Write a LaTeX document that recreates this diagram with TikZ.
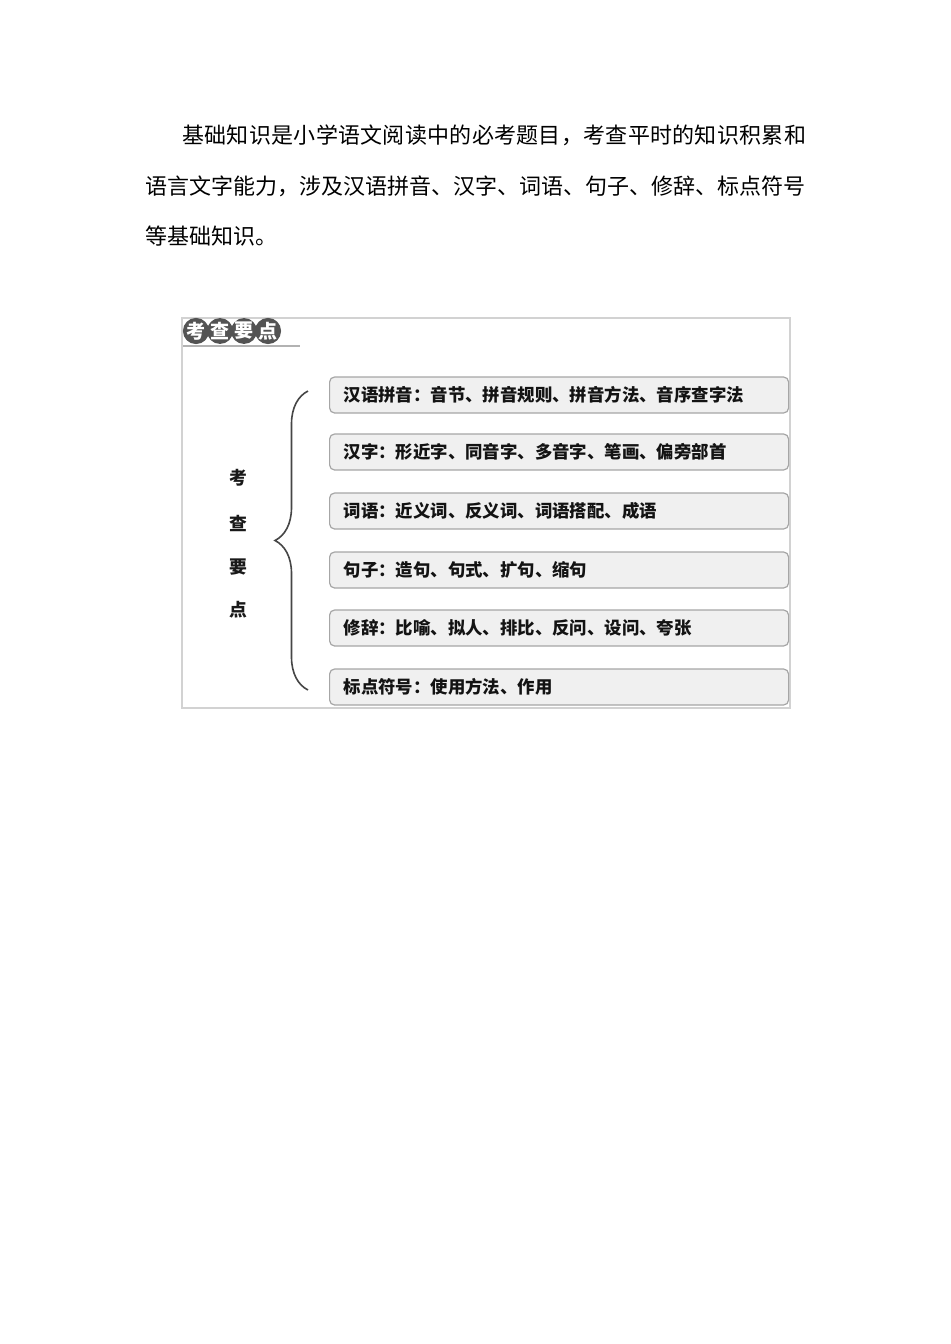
\documentclass[tikz,border=0pt]{standalone}
\usepackage{fontspec}
\usepackage{tikz}
\usetikzlibrary{decorations.pathreplacing}
\newfontfamily\cjk{Noto Sans CJK SC}
\newfontfamily\cjkwide[LetterSpace=1.3]{Noto Sans CJK SC}

\begin{document}
\begin{tikzpicture}[x=0.5pt,y=-0.5pt]
\tikzstyle{every node}=[inner sep=0pt,font=\cjk];
\tikzstyle{textline}=[anchor=west,font=\cjk\fontsize{11pt}{13pt}\selectfont];
\tikzstyle{badge}=[circle,fill=gray!65!black,text=white,minimum size=12.5pt,font=\cjk\bfseries\fontsize{9.5pt}{10pt}\selectfont];
\tikzstyle{side}=[font=\cjk\bfseries\fontsize{8.9pt}{10pt}\selectfont,text=gray!20!black];
\tikzstyle{item}=[draw=gray!70,fill=gray!12,rounded corners=2.5pt,line width=0.6pt,anchor=west,
  text width=215.5pt,inner xsep=7pt,minimum height=18pt,align=left,
  font=\cjk\bfseries\fontsize{8.7pt}{10pt}\selectfont,text=gray!15!black];
\fill[white] (0,0) rectangle (950,1344);
\useasboundingbox (0,0) rectangle (950,1344);
% paragraph
    \node[textline,font=\cjkwide\fontsize{11pt}{13pt}\selectfont] (p1) at (182,135) {基础知识是小学语文阅读中的必考题目，考查平时的知识积累和};
    \node[textline] (p2) at (145,186) {语言文字能力，涉及汉语拼音、汉字、词语、句子、修辞、标点符号};
    \node[textline] (p3) at (145,236) {等基础知识。};
% scanned figure
%   frame and header
    \draw[gray!35,line width=0.6pt] (182,318) rectangle (790,708);
    \draw[gray!60,line width=0.8pt] (183,346) -- (300,346);
    \foreach \c [count=\i] in {考,查,要,点}
        \node[badge] (b\i) at (172+24*\i,331) {\c};
%   side title
    \foreach \c/\y [count=\i] in {考/478,查/523,要/567,点/610}
        \node[side] (k\i) at (238,\y) {\c};
%   brace
    \coordinate (bb) at (308,690);
    \coordinate (bt) at (308,391);
    \draw[gray!55!black,line width=0.8pt,decorate,decoration={brace,amplitude=16.5pt}] (bb) -- (bt);
%   items
    \foreach \y/\t [count=\i] in {
        395/{汉语拼音：音节、拼音规则、拼音方法、音序查字法},
        452/{汉字：形近字、同音字、多音字、笔画、偏旁部首},
        511/{词语：近义词、反义词、词语搭配、成语},
        570/{句子：造句、句式、扩句、缩句},
        628/{修辞：比喻、拟人、排比、反问、设问、夸张},
        687/{标点符号：使用方法、作用}}
        \node[item] (i\i) at (329,\y) {\t};
\end{tikzpicture}
\end{document}
